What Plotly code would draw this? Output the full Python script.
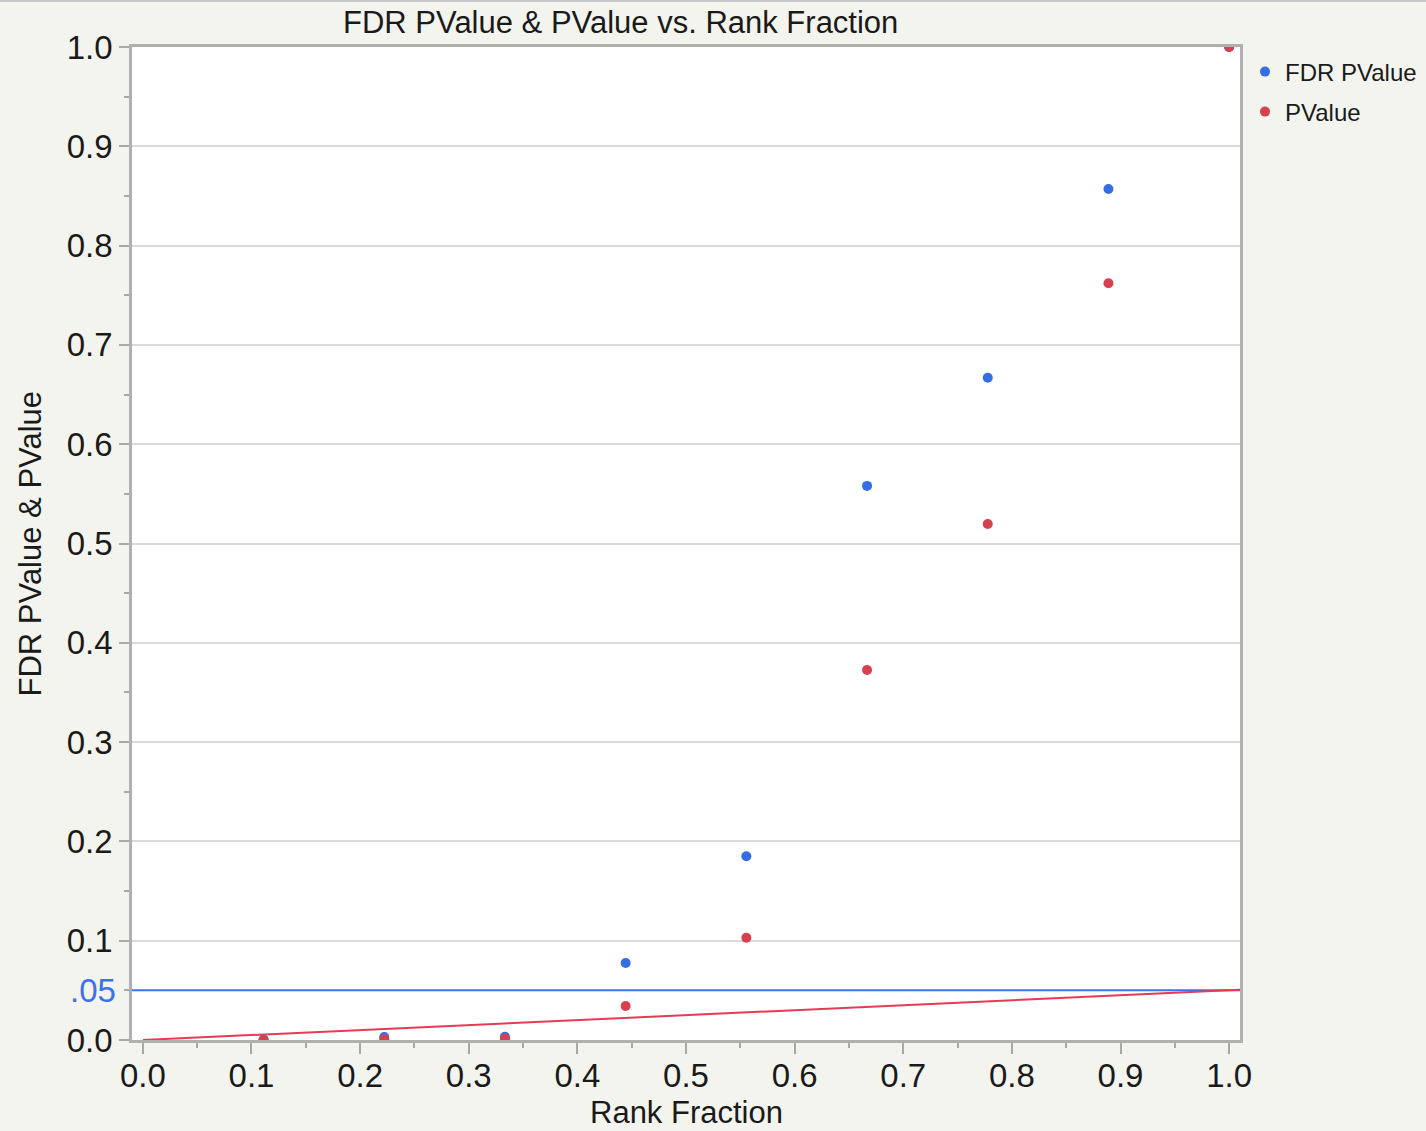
import plotly.graph_objects as go

rank_fraction = [1/9, 2/9, 3/9, 4/9, 5/9, 6/9, 7/9, 8/9, 1.0]
fdr_pvalue = [0.0004, 0.003, 0.0033, 0.0775, 0.185, 0.558, 0.667, 0.857, 1.0]
pvalue = [0.00005, 0.0007, 0.0015, 0.0342, 0.103, 0.3726, 0.5196, 0.762, 1.0]
alpha = 0.05
x_range = [-0.01, 1.01]
y_tick_vals = [0.0, 0.1, 0.2, 0.3, 0.4, 0.5, 0.6, 0.7, 0.8, 0.9, 1.0]
y_tick_text = ["0.0", "0.1", "0.2", "0.3", "0.4", "0.5", "0.6", "0.7", "0.8", "0.9", "1.0"]
x_tick_vals = [0.0, 0.1, 0.2, 0.3, 0.4, 0.5, 0.6, 0.7, 0.8, 0.9, 1.0]
x_tick_text = ["0.0", "0.1", "0.2", "0.3", "0.4", "0.5", "0.6", "0.7", "0.8", "0.9", "1.0"]

FONT = "Liberation Sans"
BG = "#f4f4ef"
BLUE_M = "#356ee4"
RED_M = "#d7404f"
BLUE_L = "#3b70f0"
RED_L = "#e83a55"

ML, MR, MT, MB = 132, 186, 47, 91
W, H = 1426, 1131
PW = W - ML - MR
PH = H - MT - MB

fig = go.Figure()

# reference lines
fig.add_trace(go.Scatter(x=x_range, y=[alpha, alpha], mode="lines",
                         line=dict(color=BLUE_L, width=2), showlegend=False, hoverinfo="skip"))
fig.add_trace(go.Scatter(x=[0, x_range[1]], y=[0, alpha * x_range[1]], mode="lines",
                         line=dict(color=RED_L, width=2), showlegend=False, hoverinfo="skip"))

fig.add_trace(go.Scatter(x=rank_fraction, y=fdr_pvalue, mode="markers", name="FDR PValue",
                         marker=dict(color=BLUE_M, size=10), legend="legend"))
fig.add_trace(go.Scatter(x=rank_fraction, y=pvalue, mode="markers", name="PValue",
                         marker=dict(color=RED_M, size=10), legend="legend2"))

legend_common = dict(xref="container", yref="container", xanchor="left", yanchor="middle",
                     bgcolor="rgba(0,0,0,0)", font=dict(family=FONT, size=24, color="#1a1a1a"))
lx = 1245 / W
fig.update_layout(
    legend=dict(x=lx, y=1 - 72 / H, **legend_common),
    legend2=dict(x=lx, y=1 - 112 / H, **legend_common),
)

fig.update_xaxes(range=x_range, tickvals=x_tick_vals, ticktext=x_tick_text,
                 ticks="outside", ticklen=11, tickwidth=1.5, tickcolor="#a8a8a8",
                 minor=dict(dtick=0.05, tick0=0, ticks="outside", ticklen=5, tickcolor="#a8a8a8", tickwidth=1.5),
                 showgrid=False, zeroline=False,
                 showline=True, linecolor="#b0b0b0", linewidth=2.5, mirror=True,
                 ticklabelstandoff=-6,
                 tickfont=dict(family=FONT, size=33, color="#1a1a1a"))
fig.update_yaxes(range=[0, 1], tickvals=y_tick_vals, ticktext=y_tick_text,
                 ticks="outside", ticklen=10, tickwidth=1.5, tickcolor="#a8a8a8",
                 minor=dict(dtick=0.05, tick0=0, ticks="outside", ticklen=5, tickcolor="#a8a8a8", tickwidth=1.5),
                 showgrid=True, gridcolor="#dadada", gridwidth=1.5, zeroline=False,
                 showline=True, linecolor="#b0b0b0", linewidth=2.5, mirror=True,
                 tickfont=dict(family=FONT, size=33, color="#1a1a1a"))

fig.add_annotation(text=".05", xref="paper", yref="y", x=(118 - ML) / PW, y=alpha,
                   xanchor="right", yanchor="middle", showarrow=False,
                   font=dict(family=FONT, size=33, color=BLUE_L))
fig.add_annotation(text="FDR PValue & PValue", xref="paper", yref="paper",
                   x=(30 - ML) / PW, y=0.5, textangle=-90, xanchor="center", yanchor="middle",
                   showarrow=False, font=dict(family=FONT, size=31, color="#1a1a1a"))
fig.add_annotation(text="Rank Fraction", xref="paper", yref="paper",
                   x=0.5, y=(MT + PH - 1112) / PH, xanchor="center", yanchor="middle",
                   showarrow=False, font=dict(family=FONT, size=31, color="#1a1a1a"))
fig.add_annotation(text="FDR PValue & PValue vs. Rank Fraction", xref="paper", yref="paper",
                   x=(620 - ML) / PW, y=(MT + PH - 23) / PH, xanchor="center", yanchor="middle",
                   showarrow=False, font=dict(family=FONT, size=31, color="#1a1a1a"))

# top border of the window
fig.add_shape(type="line", xref="paper", yref="paper",
              x0=-ML / PW, x1=(W - ML) / PW, y0=(MT + PH - 1) / PH, y1=(MT + PH - 1) / PH,
              line=dict(color="#c8c8c8", width=2))

fig.update_layout(width=W, height=H, margin=dict(l=ML, r=MR, t=MT, b=MB, autoexpand=False),
                  paper_bgcolor=BG, plot_bgcolor="white", showlegend=True,
                  font=dict(family=FONT))

fig.write_html("out.html", config={"displayModeBar": False},
               post_script="document.body.style.margin='0';document.body.style.overflow='hidden';"
                           "document.body.style.background='" + BG + "';")
